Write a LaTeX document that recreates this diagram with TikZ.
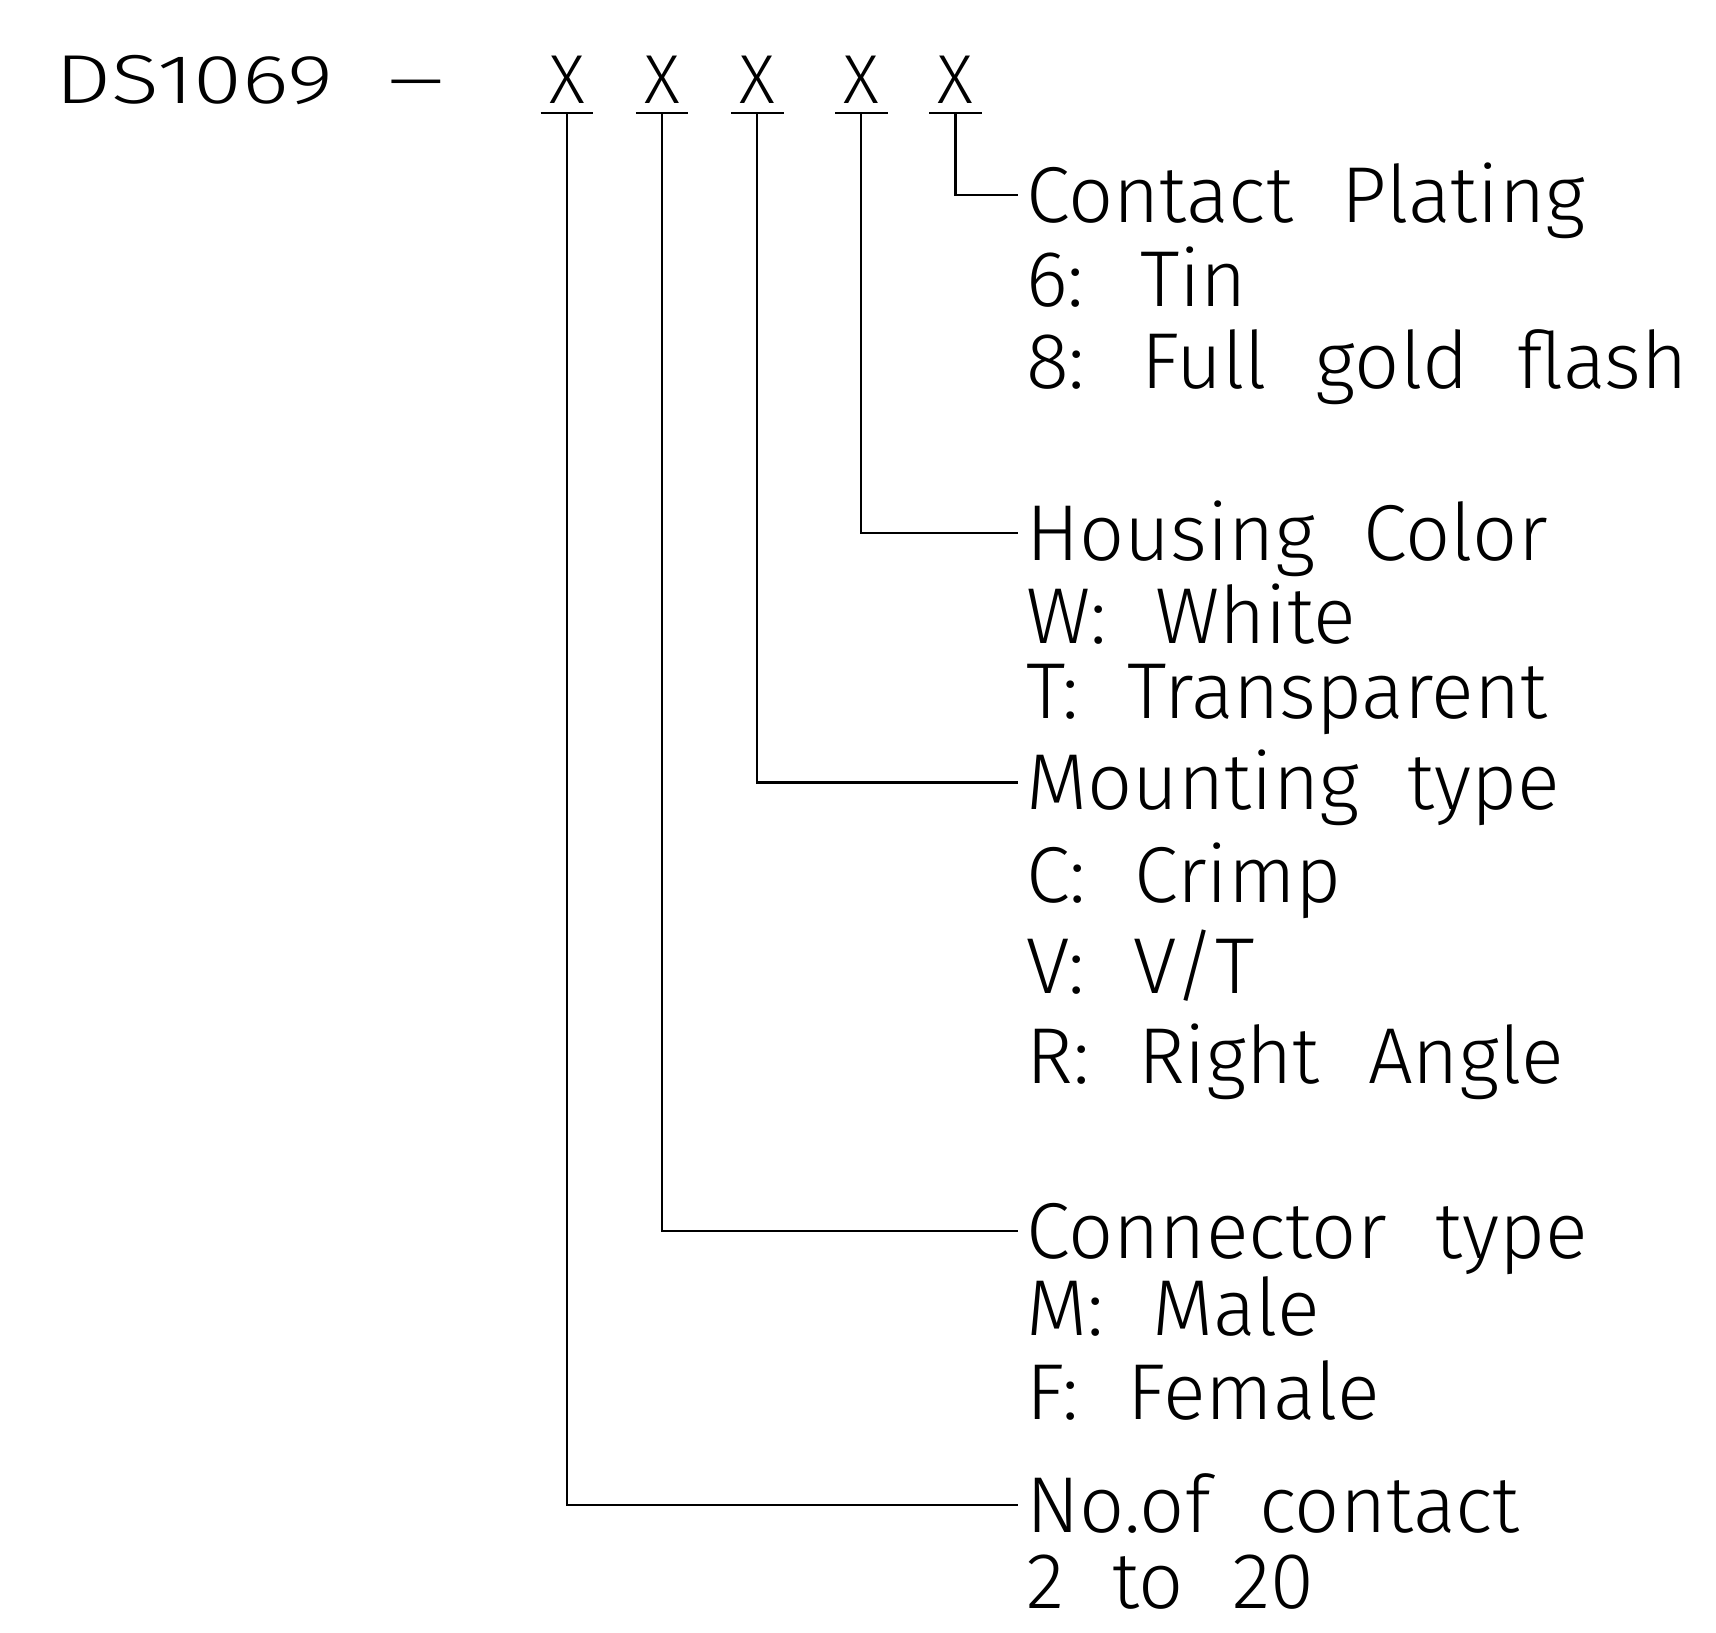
\documentclass[tikz,border=0pt]{standalone}
\usepackage{fontspec}
\setmainfont{Fira Sans}[UprightFont={* Light}, WordSpace=2.2]
\usetikzlibrary{positioning}

\begin{document}
\begin{tikzpicture}[x=0.01cm, y=-0.01cm,
  lead/.style={line width=0.6pt},
  code/.style={inner sep=0pt, font=\fontsize{18}{18}\selectfont, text height=12.2pt, text depth=0pt},
  lbl/.style={anchor=west, inner xsep=2pt, inner ysep=0pt, font=\fontsize{20.6}{20.6}\selectfont, text height=14.2pt, text depth=0pt}]
  \useasboundingbox (0,0) rectangle (1568,1492);

  % Part number
  \node[code, anchor=west] (part) at (50,73) {\addfontfeatures{FakeStretch=1.28}DS1069};
  \node[code] (dash) at (380,73) {\addfontfeatures{FakeStretch=1.6}--};

  % Code letters with underlines
  \node[code] (x1) at (518,73) {X};
  \node[code] (x2) at (605,73) {X};
  \node[code] (x3) at (692,73) {X};
  \node[code] (x4) at (787,73) {X};
  \node[code] (x5) at (873,73) {X};
  \coordinate (u1) at (518,103);
  \coordinate (u2) at (605,103);
  \coordinate (u3) at (692,103);
  \coordinate (u4) at (787,103);
  \coordinate (u5) at (873,103);
  \draw[lead] (494,103) -- (542,103);
  \draw[lead] (581,103) -- (629,103);
  \draw[lead] (668,103) -- (716,103);
  \draw[lead] (763,103) -- (811,103);
  \draw[lead] (849,103) -- (897,103);

  % Contact plating
  \node[lbl] (plating) at (930,178) {Contact Plating};
  \node[lbl] (tin) at (930,255) {6: Tin};
  \node[lbl] (gold) at (930,330) {8: Full gold flash};

  % Housing color
  \node[lbl] (color) at (930,487) {Housing Color};
  \node[lbl] (white) at (930,563) {W: White};
  \node[lbl] (transp) at (930,632) {T: Transparent};

  % Mounting type
  \node[lbl] (mount) at (930,715) {Mounting type};
  \node[lbl] (crimp) at (930,800) {C: Crimp};
  \node[lbl] (vt) at (930,883) {V: V/T};
  \node[lbl] (rangle) at (930,965) {R: Right Angle};

  % Connector type
  \node[lbl] (conn) at (930,1125) {Connector type};
  \node[lbl] (male) at (930,1195) {M: Male};
  \node[lbl] (female) at (930,1272) {F: Female};

  % No. of contacts
  \node[lbl] (contacts) at (930,1375) {No.of contact};
  \node[lbl] (range) at (930,1445) {2 to 20};

  % Leaders
  \draw[lead] (u5) |- (plating.west);
  \draw[lead] (u4) |- (color.west);
  \draw[lead] (u3) |- (mount.west);
  \draw[lead] (u2) |- (conn.west);
  \draw[lead] (u1) |- (contacts.west);
\end{tikzpicture}
\end{document}
